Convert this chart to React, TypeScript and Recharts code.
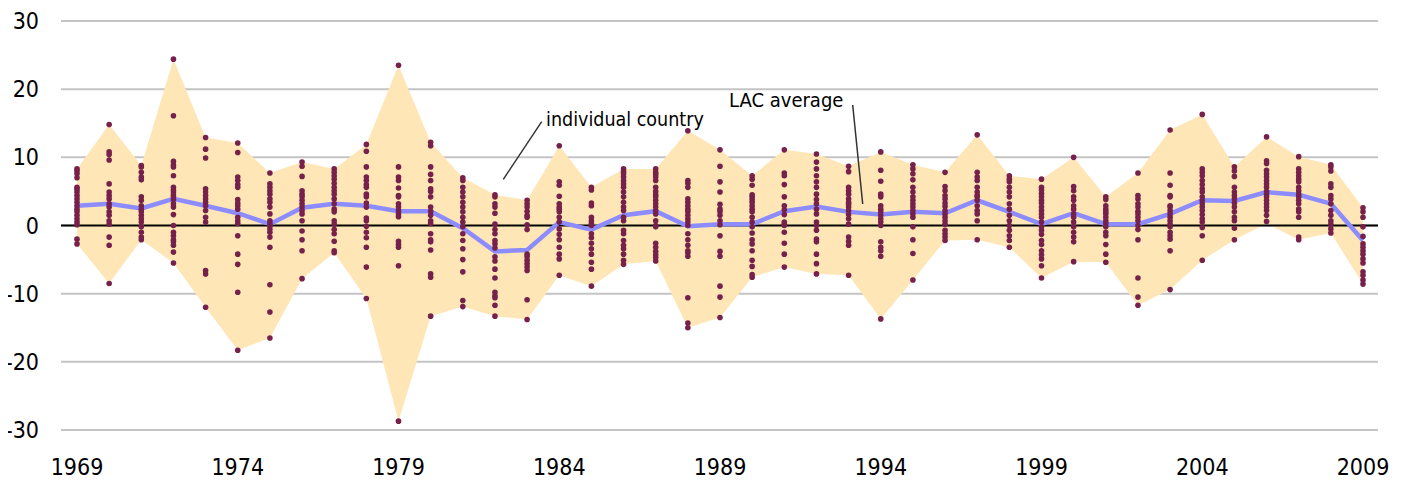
import React from 'react';
import { ComposedChart, Area, Line, XAxis, YAxis, CartesianGrid, ReferenceLine } from 'recharts';

const years = [
  '1969', '1970', '1971', '1972', '1973', '1974', '1975', '1976', '1977', '1978',
  '1979', '1980', '1981', '1982', '1983', '1984', '1985', '1986', '1987', '1988',
  '1989', '1990', '1991', '1992', '1993', '1994', '1995', '1996', '1997', '1998',
  '1999', '2000', '2001', '2002', '2003', '2004', '2005', '2006', '2007', '2008', '2009',
];

const bandHigh = [
  8.3, 14.8, 8.8, 24.4, 12.9, 12.1, 7.7, 9.3, 8.3, 11.9,
  23.5, 12.2, 7.0, 4.5, 3.7, 11.7, 5.6, 8.3, 8.3, 13.9,
  11.1, 7.3, 11.1, 10.5, 8.7, 10.8, 8.9, 7.8, 13.3, 7.3,
  6.8, 10.0, 4.2, 7.7, 14.0, 16.3, 8.6, 13.0, 10.1, 8.9, 2.6,
];

const bandLow = [
  -2.7, -8.5, -2.1, -5.5, -12.0, -18.3, -16.5, -7.8, -4.0, -10.7,
  -28.7, -13.3, -11.9, -13.3, -13.8, -7.3, -8.9, -5.7, -5.2, -15.0,
  -13.5, -7.6, -6.1, -7.1, -7.3, -13.7, -8.0, -2.2, -2.1, -3.2,
  -7.7, -5.3, -5.4, -11.7, -9.4, -5.1, -2.1, 0.3, -2.1, -1.1, -8.6,
];

const lacAverage = [
  2.9, 3.2, 2.5, 3.9, 2.9, 1.8, 0.2, 2.6, 3.2, 2.9,
  2.1, 2.1, -0.4, -3.8, -3.6, 0.5, -0.6, 1.5, 2.1, -0.1,
  0.2, 0.2, 2.1, 2.8, 2.0, 1.6, 2.0, 1.8, 3.7, 2.0,
  0.2, 1.8, 0.2, 0.2, 1.7, 3.7, 3.6, 4.9, 4.5, 3.2, -2.2,
];

const countryValues: number[][] = [
  [8.3, 8.0, 7.6, 7.0, 5.6, 5.3, 4.9, 4.4, 3.9, 3.4, 2.9, 2.4, 2.0, 1.5, 1.0, 0.5, 0.1, -2.0, -2.7],
  [14.8, 10.8, 10.4, 9.6, 6.1, 4.9, 4.4, 3.9, 3.2, 2.7, 2.0, 1.5, 0.7, 0.2, -1.7, -2.9, -8.5],
  [8.8, 8.6, 7.8, 7.1, 6.7, 4.2, 3.7, 2.9, 2.4, 2.0, 1.5, 1.0, 0.5, -0.2, -1.0, -1.7, -2.1],
  [24.4, 16.1, 9.4, 8.9, 8.6, 7.3, 5.6, 5.2, 4.9, 4.5, 4.2, 3.8, 3.2, 2.7, 1.6, 0.0, -1.0, -1.5, -2.1, -2.4, -2.9, -3.9, -5.5],
  [12.9, 11.2, 9.9, 5.4, 4.9, 4.4, 3.9, 3.4, 2.9, 2.2, 1.2, 0.5, -6.6, -7.1, -12.0],
  [12.1, 10.7, 7.1, 6.6, 6.0, 5.6, 3.8, 3.3, 2.9, 2.4, 1.2, 0.7, 0.3, -1.5, -4.2, -5.7, -9.8, -18.3],
  [7.7, 6.1, 5.6, 5.1, 4.6, 3.9, 3.4, 2.7, 1.7, 0.7, 0.3, 0.0, -0.5, -1.0, -1.7, -3.2, -8.7, -12.7, -16.5],
  [9.3, 8.7, 7.2, 5.1, 4.6, 4.2, 3.7, 3.2, 2.7, 2.2, 1.7, 0.7, -0.8, -2.1, -3.7, -7.8],
  [8.3, 7.8, 7.3, 6.8, 6.2, 5.6, 5.1, 4.6, 3.9, 3.2, 2.4, 2.0, 0.7, 0.2, -0.6, -1.2, -2.3, -3.7, -4.0],
  [11.9, 10.9, 8.6, 7.1, 6.6, 6.0, 5.6, 4.6, 4.2, 3.3, 2.7, 1.1, 0.7, -0.1, -1.0, -1.8, -3.2, -6.1, -10.7],
  [23.5, 8.6, 7.1, 6.6, 5.5, 4.4, 4.2, 3.2, 2.7, 2.2, 1.7, 1.3, -2.3, -2.8, -3.2, -5.9, -28.7],
  [12.2, 11.7, 8.6, 7.5, 6.6, 5.4, 5.0, 4.2, 2.7, 2.1, 1.5, 0.7, 0.3, -1.2, -2.1, -2.4, -3.6, -7.1, -7.6, -13.3],
  [7.0, 6.6, 5.6, 4.9, 4.2, 3.4, 2.7, 2.0, 1.2, 0.5, -0.2, -1.2, -2.2, -3.4, -5.0, -6.8, -11.0, -11.9],
  [4.5, 4.2, 3.2, 2.7, 1.8, 0.2, -0.6, -1.2, -2.2, -2.7, -3.3, -4.6, -5.2, -6.4, -7.7, -9.8, -10.3, -10.6, -11.7, -13.3],
  [3.7, 3.2, 2.7, 2.1, 1.5, 1.2, 0.1, -0.6, -4.2, -4.6, -5.1, -5.6, -6.1, -6.6, -10.9, -13.8],
  [11.7, 6.4, 5.9, 4.3, 3.2, 2.7, 2.4, 2.0, 1.2, 0.5, -0.5, -1.3, -2.1, -3.2, -4.2, -4.9, -7.3],
  [5.6, 5.2, 3.3, 2.9, 1.2, 0.7, 0.3, 0.0, -1.2, -1.8, -2.6, -3.4, -4.2, -5.4, -6.4, -8.9],
  [8.3, 7.9, 7.6, 7.1, 6.6, 6.1, 5.6, 4.9, 4.2, 3.4, 2.7, 2.2, 1.2, 0.7, -0.7, -1.2, -2.2, -2.9, -3.4, -4.2, -5.1, -5.7],
  [8.3, 7.8, 7.5, 7.1, 6.6, 5.6, 5.0, 4.5, 4.2, 3.7, 3.2, 2.7, 2.2, 1.7, 0.7, 0.0, -0.2, -2.6, -3.2, -3.8, -4.3, -4.7, -5.2],
  [13.9, 6.6, 6.2, 5.6, 3.9, 3.4, 2.9, 2.4, 2.0, 1.5, 1.0, 0.5, 0.0, -1.2, -2.1, -2.9, -3.7, -4.0, -4.5, -10.6, -14.3, -15.0],
  [11.1, 8.7, 6.4, 4.9, 3.1, 2.4, 2.0, 1.5, 0.7, 0.1, -1.5, -3.8, -4.5, -8.9, -10.5, -13.5],
  [7.3, 6.8, 5.9, 4.5, 4.2, 3.8, 3.4, 2.9, 2.4, 2.0, 1.2, 0.5, -0.2, -1.1, -2.1, -2.7, -3.7, -5.1, -6.0, -7.2, -7.6],
  [11.1, 7.7, 7.3, 6.0, 4.2, 2.9, 2.3, 1.6, 0.5, 0.2, 0.0, -1.0, -2.6, -4.2, -6.1],
  [10.5, 9.3, 8.3, 7.3, 6.4, 5.6, 4.6, 3.8, 3.2, 2.4, 1.7, 0.5, 0.0, -0.7, -2.0, -2.4, -4.2, -5.6, -7.1],
  [8.7, 7.9, 5.6, 5.1, 4.6, 3.9, 3.4, 3.1, 2.7, 2.2, 1.6, 1.0, 0.2, -1.7, -2.3, -2.9, -7.3],
  [10.8, 8.1, 6.5, 4.6, 4.2, 2.9, 2.4, 2.0, 1.5, 1.0, 0.5, 0.0, -2.4, -3.2, -3.7, -4.5, -13.7],
  [8.9, 8.3, 7.6, 6.7, 5.6, 4.9, 4.2, 3.7, 3.2, 2.7, 2.2, 1.7, 1.2, -0.2, -2.1, -4.1, -8.0],
  [7.8, 5.7, 5.1, 4.4, 3.9, 3.3, 2.8, 2.2, 1.7, 1.2, 0.7, 0.2, -0.7, -1.2, -1.7, -2.2],
  [13.3, 7.8, 7.1, 6.6, 5.6, 4.9, 4.4, 4.2, 3.7, 2.9, 2.2, 1.7, 0.7, -2.1],
  [7.3, 6.8, 6.4, 5.6, 4.9, 4.2, 3.2, 2.4, 1.5, 0.7, 0.0, -0.7, -1.5, -2.2, -3.2],
  [6.8, 5.6, 5.2, 4.7, 4.2, 3.7, 3.3, 2.7, 2.2, 1.7, 1.2, 0.5, -0.2, -0.7, -1.3, -2.2, -2.8, -3.7, -4.3, -4.9, -5.9, -7.7],
  [10.0, 5.7, 5.1, 4.2, 3.7, 2.9, 2.4, 1.7, 1.2, 0.5, -0.2, -1.0, -1.7, -2.4, -5.3],
  [4.2, 3.8, 2.9, 2.4, 2.0, 1.7, 1.2, 0.7, 0.3, -0.2, -1.0, -1.5, -2.8, -4.2, -5.4],
  [7.7, 4.4, 3.9, 3.2, 2.7, 2.1, 1.7, 1.2, 0.7, 0.0, -0.6, -2.1, -7.7, -10.5, -11.7],
  [14.0, 7.7, 5.9, 4.4, 4.2, 2.9, 2.7, 2.2, 1.7, 1.2, 0.7, 0.2, -0.2, -1.0, -1.5, -2.0, -3.7, -9.4],
  [16.3, 8.3, 7.8, 7.3, 6.6, 6.0, 5.4, 4.9, 4.2, 3.7, 3.2, 2.7, 2.2, 1.6, 1.0, 0.5, -0.3, -1.5, -5.1],
  [8.6, 8.0, 7.2, 5.6, 4.9, 4.4, 3.9, 3.3, 2.7, 2.0, 1.2, 0.7, -0.4, -2.1],
  [13.0, 9.5, 9.1, 8.1, 7.6, 7.1, 6.6, 6.1, 5.6, 5.0, 4.6, 4.2, 3.7, 3.2, 2.7, 2.2, 1.5, 0.6],
  [10.1, 8.3, 7.8, 7.3, 6.8, 6.4, 5.6, 5.1, 4.6, 4.2, 3.7, 3.2, 2.4, 2.0, 1.2, -1.7, -2.1],
  [8.9, 8.6, 8.0, 6.1, 5.6, 4.4, 3.9, 3.2, 2.2, 1.5, 0.7, 0.2, -0.5, -1.1],
  [2.6, 2.0, 1.2, -0.2, -1.6, -2.7, -3.2, -3.7, -4.2, -4.9, -5.5, -6.8, -7.3, -8.0, -8.6],
];

const yTicks = [-30, -20, -10, 0, 10, 20, 30];

const maxDots = Math.max(...countryValues.map((v) => v.length));
const dotKeys = Array.from({ length: maxDots }, (_, i) => `c${i}`);

const rows = years.map((year, i) => {
  const row: Record<string, any> = {
    year,
    range: [bandLow[i], bandHigh[i]],
    avg: lacAverage[i],
  };
  countryValues[i].forEach((v, j) => {
    row[`c${j}`] = v;
  });
  return row;
});

const FONT = "'DejaVu Sans Condensed', 'DejaVu Sans', sans-serif";
const DOT = '#76214C';
const W = 1402;
const H = 475;

export default function App() {
  return (
    <div
      style={{
        position: 'relative',
        width: W,
        height: H,
        marginLeft: -8,
        fontFamily: FONT,
        fontStretch: 'condensed',
      }}
    >
      <ComposedChart
        width={W}
        height={H}
        data={rows}
        margin={{ top: 13, right: 24, left: 0, bottom: 0 }}
      >
        <CartesianGrid horizontal vertical={false} stroke="#C4C4C4" strokeWidth={2} />
        <XAxis
          dataKey="year"
          interval={4}
          axisLine={false}
          tickLine={false}
          tickSize={0}
          tickMargin={29}
          height={53}
          padding={{ left: 16, right: 15 }}
          tick={{ fontSize: 23, fill: '#000', fontFamily: FONT }}
        />
        <YAxis
          domain={[-30, 30]}
          ticks={yTicks}
          width={61}
          axisLine={false}
          tickLine={false}
          tickSize={0}
          tickMargin={22}
          tick={{ fontSize: 23, fill: '#000', fontFamily: FONT }}
        />
        <Area
          dataKey="range"
          type="linear"
          fill="#FFE6B7"
          fillOpacity={1}
          stroke="none"
          isAnimationActive={false}
          activeDot={false}
        />
        <ReferenceLine y={0} stroke="#000" strokeWidth={2} />
        <Line
          dataKey="avg"
          type="linear"
          stroke="#8C8CFF"
          strokeWidth={4.5}
          dot={false}
          activeDot={false}
          isAnimationActive={false}
        />
        {dotKeys.map((k) => (
          <Line
            key={k}
            dataKey={k}
            stroke="none"
            dot={{ r: 2.8, fill: DOT, stroke: 'none' }}
            activeDot={false}
            isAnimationActive={false}
            legendType="none"
          />
        ))}
      </ComposedChart>
      <svg
        width={W}
        height={H}
        style={{ position: 'absolute', left: 0, top: 0, pointerEvents: 'none' }}
      >
        <line x1={541.7} y1={113.7} x2={503.3} y2={171.3} stroke="#333" strokeWidth={1.5} />
        <text x={546} y={118} fontSize={19.5} fill="#000" fontFamily={FONT}>
          individual country
        </text>
        <line x1={852.7} y1={97} x2={862.7} y2={196} stroke="#333" strokeWidth={1.5} />
        <text x={729} y={99} fontSize={20} fill="#000" fontFamily={FONT}>
          LAC average
        </text>
      </svg>
    </div>
  );
}
